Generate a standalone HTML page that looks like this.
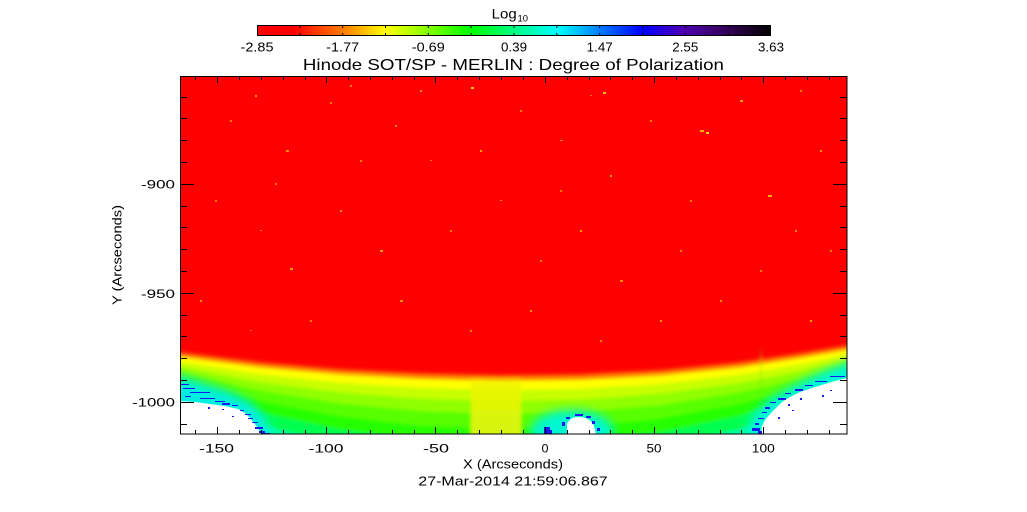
<!DOCTYPE html>
<html><head><meta charset="utf-8"><style>
html,body{margin:0;padding:0;background:#fff;}
svg{display:block;}
text{font-family:"Liberation Sans",sans-serif;fill:#000;}
</style></head><body>
<svg width="1027" height="512" viewBox="0 0 1027 512" xmlns="http://www.w3.org/2000/svg">
<defs>
<linearGradient id="cb" x1="0" x2="1" y1="0" y2="0">
<stop offset="0" stop-color="#ff0000"/>
<stop offset="0.07" stop-color="#ff0000"/>
<stop offset="0.17" stop-color="#ff8000"/>
<stop offset="0.25" stop-color="#ffff00"/>
<stop offset="0.335" stop-color="#80ff00"/>
<stop offset="0.415" stop-color="#00ff00"/>
<stop offset="0.5" stop-color="#00ff80"/>
<stop offset="0.585" stop-color="#00ffff"/>
<stop offset="0.665" stop-color="#0080ff"/>
<stop offset="0.75" stop-color="#0000ff"/>
<stop offset="0.83" stop-color="#5000b0"/>
<stop offset="0.92" stop-color="#300050"/>
<stop offset="1" stop-color="#000000"/>
</linearGradient>
<linearGradient id="strip" x1="0" x2="0" y1="0" y2="1">
<stop offset="0" stop-color="#f4f400" stop-opacity="0"/>
<stop offset="0.15" stop-color="#eef400" stop-opacity="0.9"/>
<stop offset="1" stop-color="#d4f410" stop-opacity="1"/>
</linearGradient>
<clipPath id="pc"><rect x="180" y="76" width="667" height="358"/></clipPath>
<filter id="bl" x="-5%" y="-5%" width="110%" height="110%"><feGaussianBlur stdDeviation="1.8"/></filter>
<filter id="bl2" x="-20%" y="-20%" width="140%" height="140%"><feGaussianBlur stdDeviation="5"/></filter>
</defs>
<rect width="1027" height="512" fill="#fff"/>

<rect x="257" y="25" width="514" height="11" fill="url(#cb)"/>
<rect x="257.5" y="25.5" width="513" height="10" fill="none" stroke="#000" stroke-width="1"/>
<path stroke="#000" stroke-width="1" d="M299.8,25V28M342.7,25V28M385.5,25V28M428.3,25V28M471.2,25V28M514,25V28M556.8,25V28M599.7,25V28M642.5,25V28M685.3,25V28M728.2,25V28M299.8,36V33M342.7,36V33M385.5,36V33M428.3,36V33M471.2,36V33M514,36V33M556.8,36V33M599.7,36V33M642.5,36V33M685.3,36V33M728.2,36V33"/>
<text x="491.7" y="18.5" font-size="14" textLength="25" lengthAdjust="spacingAndGlyphs">Log</text>
<text x="517.5" y="21.5" font-size="9" textLength="10.5" lengthAdjust="spacingAndGlyphs">10</text>
<g font-size="13" text-anchor="middle">
<text x="257" y="51.5" textLength="33" lengthAdjust="spacingAndGlyphs">-2.85</text>
<text x="342.7" y="51.5" textLength="33" lengthAdjust="spacingAndGlyphs">-1.77</text>
<text x="428.3" y="51.5" textLength="33" lengthAdjust="spacingAndGlyphs">-0.69</text>
<text x="514" y="51.5" textLength="26" lengthAdjust="spacingAndGlyphs">0.39</text>
<text x="599.7" y="51.5" textLength="26" lengthAdjust="spacingAndGlyphs">1.47</text>
<text x="685.3" y="51.5" textLength="26" lengthAdjust="spacingAndGlyphs">2.55</text>
<text x="771" y="51.5" textLength="26" lengthAdjust="spacingAndGlyphs">3.63</text>
</g>
<text x="513.4" y="70" font-size="16" text-anchor="middle" textLength="421" lengthAdjust="spacingAndGlyphs">Hinode SOT/SP - MERLIN : Degree of Polarization</text>

<g clip-path="url(#pc)">
<rect x="170" y="70" width="700" height="380" fill="#ff0000"/>
<g>
<rect x="471" y="87" width="3" height="2" fill="#ffd000"/>
<rect x="603" y="92" width="3" height="2" fill="#ffc000"/>
<rect x="700" y="130" width="4" height="2" fill="#ffb000"/>
<rect x="706" y="132" width="3" height="2" fill="#ffd000"/>
<rect x="768" y="195" width="4" height="2" fill="#ffb000"/>
<rect x="286" y="150" width="3" height="2" fill="#ff9000"/>
<rect x="290" y="268" width="3" height="2" fill="#ffa000"/>
<rect x="330" y="102" width="2" height="2" fill="#ff8000"/>
<rect x="395" y="125" width="2" height="2" fill="#ff9000"/>
<rect x="430" y="160" width="2" height="1" fill="#ff8000"/>
<rect x="520" y="110" width="2" height="2" fill="#ff8000"/>
<rect x="560" y="140" width="3" height="1" fill="#ff9000"/>
<rect x="610" y="175" width="2" height="2" fill="#ffa000"/>
<rect x="650" y="120" width="2" height="2" fill="#ff8000"/>
<rect x="740" y="100" width="3" height="2" fill="#ffa000"/>
<rect x="800" y="90" width="2" height="2" fill="#ff8000"/>
<rect x="820" y="150" width="2" height="2" fill="#ff9000"/>
<rect x="230" y="120" width="2" height="2" fill="#ff8000"/>
<rect x="255" y="95" width="2" height="2" fill="#ff9000"/>
<rect x="215" y="200" width="2" height="2" fill="#ff8000"/>
<rect x="260" y="230" width="2" height="1" fill="#ff8000"/>
<rect x="340" y="210" width="2" height="2" fill="#ff9000"/>
<rect x="380" y="250" width="3" height="2" fill="#ffa000"/>
<rect x="450" y="230" width="2" height="2" fill="#ff8000"/>
<rect x="500" y="200" width="2" height="1" fill="#ff9000"/>
<rect x="540" y="260" width="2" height="2" fill="#ff8000"/>
<rect x="580" y="230" width="2" height="2" fill="#ffa000"/>
<rect x="620" y="280" width="3" height="2" fill="#ff9000"/>
<rect x="680" y="250" width="2" height="2" fill="#ff8000"/>
<rect x="720" y="300" width="2" height="2" fill="#ff9000"/>
<rect x="760" y="270" width="2" height="2" fill="#ff8000"/>
<rect x="810" y="320" width="2" height="2" fill="#ffa000"/>
<rect x="830" y="250" width="2" height="2" fill="#ff8000"/>
<rect x="200" y="300" width="2" height="2" fill="#ff9000"/>
<rect x="250" y="330" width="2" height="1" fill="#ff8000"/>
<rect x="310" y="320" width="2" height="2" fill="#ff8000"/>
<rect x="400" y="300" width="3" height="2" fill="#ff9000"/>
<rect x="470" y="330" width="2" height="2" fill="#ff8000"/>
<rect x="530" y="310" width="2" height="2" fill="#ff9000"/>
<rect x="600" y="340" width="2" height="2" fill="#ff8000"/>
<rect x="660" y="320" width="2" height="2" fill="#ff9000"/>
<rect x="690" y="200" width="2" height="2" fill="#ff8000"/>
<rect x="360" y="160" width="2" height="2" fill="#ff8000"/>
<rect x="480" y="150" width="2" height="2" fill="#ffa000"/>
<rect x="590" y="95" width="2" height="1" fill="#ff8000"/>
<rect x="420" y="90" width="2" height="2" fill="#ff9000"/>
<rect x="350" y="85" width="2" height="2" fill="#ff8000"/>
<rect x="795" y="230" width="2" height="2" fill="#ff9000"/>
<rect x="275" y="183" width="2" height="2" fill="#ff8000"/>
<rect x="560" y="190" width="2" height="2" fill="#ff8000"/>
</g>
<g filter="url(#bl)">
<path fill="#ff3000" d="M170,349.5L180,351L260,361L340,368L420,372L500,374L580,373L660,369L740,361L800,352L847,344L860,341.5L860,450L170,450Z"/>
<path fill="#ff8c00" d="M170,352.5L180,354L260,364L340,371L420,375L500,377L580,376L660,372L740,364L800,355L847,347L860,344.5L860,450L170,450Z"/>
<path fill="#ffff00" d="M170,355.5L180,357L260,367.5L340,374.8L420,379L500,381L580,380L660,375.8L740,367.6L800,358.3L847,350L860,347.5L860,450L170,450Z"/>
<path fill="#c8ff00" d="M170,360.5L180,362L260,374.3L340,382.8L420,387.8L500,390L580,388.8L660,384L740,374.8L800,364.5L847,355L860,352.5L860,450L170,450Z"/>
<path fill="#90ff00" d="M170,365.5L180,367L260,382L340,392.3L420,398.5L500,401L580,399.5L660,393.8L740,383L800,371.3L847,360L860,357.5L860,450L170,450Z"/>
<path fill="#58ff00" d="M170,370.5L180,372L260,390.6L340,403.3L420,411L500,414L580,412L660,405.2L740,392.5L800,378.7L847,365L860,362.5L860,450L170,450Z"/>
<path fill="#28ff00" d="M170,377.5L180,379L260,401.2L340,416.3L420,425.7L500,429L580,426.7L660,418.6L740,403.9L800,388.1L847,372L860,369.5L860,450L170,450Z"/>
<path fill="#00ff50" d="M170,385.5L180,387L260,412.3L340,429.5L420,440.3L500,444L580,441.3L660,432.2L740,415.7L800,398.2L847,380L860,377.5L860,450L170,450Z"/>
<path fill="#00ffa0" d="M170,395.5L180,397L260,425L340,444L420,456L500,460L580,457L660,447L740,429L800,410L847,390L860,387.5L860,450L170,450Z"/>
<rect x="471" y="376" width="50" height="66" fill="url(#strip)"/>
<line x1="761" y1="350" x2="761" y2="400" stroke="#60e000" stroke-width="1" opacity="0.6"/>
</g>
<g filter="url(#bl2)">
<path fill="#00f0e0" d="M172,374L200,382L230,392L250,402L264,416L274,440L172,440Z"/>
<path fill="#00f8d8" d="M855,360L822,372L792,386L768,400L752,416L746,440L855,440Z"/>
<ellipse cx="572" cy="432" rx="42" ry="22" fill="#00f8d0"/>
</g>
<path fill="#fff" d="M180,401L195,402L210,404L225,406L238,409L245,413L250,418L254,423L258,428L261,434L180,434Z"/>
<path fill="#fff" d="M847,378L835,381L825,384L812,388L800,392L790,397L782,402L776,408L770,414L765,420L762,426L761,434L847,434Z"/>
<path fill="#fff" d="M567,434L567,424Q570,417 578,417Q590,417 594,426L596,434Z"/>
<g fill="#1818f0">
<rect x="181" y="384" width="8" height="1"/>
<rect x="183" y="388" width="12" height="1"/>
<rect x="190" y="392" width="20" height="1"/>
<rect x="185" y="396" width="6" height="1"/>
<rect x="200" y="398" width="15" height="1"/>
<rect x="215" y="401" width="10" height="1"/>
<rect x="222" y="403" width="8" height="2"/>
<rect x="232" y="405" width="6" height="1"/>
<rect x="240" y="410" width="4" height="1"/>
<rect x="245" y="414" width="6" height="1"/>
<rect x="248" y="418" width="5" height="1"/>
<rect x="252" y="422" width="6" height="1"/>
<rect x="255" y="427" width="8" height="2"/>
<rect x="259" y="431" width="6" height="2"/>
<rect x="262" y="433" width="8" height="2"/>
<rect x="208" y="407" width="2" height="2"/>
<rect x="222" y="409" width="2" height="1"/>
<rect x="232" y="416" width="2" height="1"/>
<rect x="830" y="376" width="15" height="1"/>
<rect x="815" y="381" width="12" height="1"/>
<rect x="805" y="385" width="8" height="1"/>
<rect x="795" y="389" width="8" height="2"/>
<rect x="785" y="393" width="6" height="1"/>
<rect x="778" y="398" width="8" height="2"/>
<rect x="770" y="402" width="6" height="1"/>
<rect x="765" y="407" width="5" height="2"/>
<rect x="762" y="412" width="5" height="1"/>
<rect x="758" y="418" width="6" height="1"/>
<rect x="755" y="423" width="4" height="2"/>
<rect x="752" y="428" width="8" height="3"/>
<rect x="758" y="431" width="4" height="3"/>
<rect x="800" y="398" width="2" height="2"/>
<rect x="788" y="404" width="2" height="2"/>
<rect x="792" y="410" width="2" height="1"/>
<rect x="778" y="417" width="2" height="2"/>
<rect x="830" y="390" width="2" height="1"/>
<rect x="822" y="395" width="2" height="2"/>
<rect x="566" y="417" width="4" height="2"/>
<rect x="575" y="414" width="8" height="2"/>
<rect x="586" y="416" width="5" height="2"/>
<rect x="592" y="421" width="3" height="3"/>
<rect x="597" y="428" width="3" height="3"/>
<rect x="562" y="422" width="3" height="4"/>
<rect x="544" y="427" width="6" height="7"/>
<rect x="549" y="430" width="3" height="4"/>
</g>
</g>

<rect x="180.5" y="76.5" width="666.5" height="357.5" fill="none" stroke="#000" stroke-width="1"/>
<path stroke="#000" stroke-width="1" fill="none" d="M180,97.5H187M180,118.5H187M180,140.5H187M180,162.5H187M180,184.5H194M180,206.5H187M180,227.5H187M180,249.5H187M180,271.5H187M180,293.5H194M180,315.5H187M180,336.5H187M180,358.5H187M180,380.5H187M180,402.5H194M180,424.5H187M847,97.5H840M847,118.5H840M847,140.5H840M847,162.5H840M847,184.5H833M847,206.5H840M847,227.5H840M847,249.5H840M847,271.5H840M847,293.5H833M847,315.5H840M847,336.5H840M847,358.5H840M847,380.5H840M847,402.5H833M847,424.5H840"/>
<path stroke="#000" stroke-width="1" fill="none" d="M195.5,434V430M217.5,434V427M239.5,434V430M261.5,434V430M283.5,434V430M305.5,434V430M326.5,434V427M348.5,434V430M370.5,434V430M392.5,434V430M414.5,434V430M435.5,434V427M457.5,434V430M479.5,434V430M501.5,434V430M523.5,434V430M545.5,434V427M567.5,434V430M589.5,434V430M610.5,434V430M632.5,434V430M654.5,434V427M676.5,434V430M698.5,434V430M720.5,434V430M741.5,434V430M763.5,434V427M785.5,434V430M807.5,434V430M829.5,434V430M195.5,76V80M217.5,76V83M239.5,76V80M261.5,76V80M283.5,76V80M305.5,76V80M326.5,76V83M348.5,76V80M370.5,76V80M392.5,76V80M414.5,76V80M435.5,76V83M457.5,76V80M479.5,76V80M501.5,76V80M523.5,76V80M545.5,76V83M567.5,76V80M589.5,76V80M610.5,76V80M632.5,76V80M654.5,76V83M676.5,76V80M698.5,76V80M720.5,76V80M741.5,76V80M763.5,76V83M785.5,76V80M807.5,76V80M829.5,76V80"/>

<g font-size="12" text-anchor="middle">
<text x="216.5" y="452.3" textLength="35" lengthAdjust="spacingAndGlyphs">-150</text>
<text x="326" y="452.3" textLength="35" lengthAdjust="spacingAndGlyphs">-100</text>
<text x="436" y="452.3" textLength="26" lengthAdjust="spacingAndGlyphs">-50</text>
<text x="545" y="452.3" textLength="7" lengthAdjust="spacingAndGlyphs">0</text>
<text x="654" y="452.3" textLength="15" lengthAdjust="spacingAndGlyphs">50</text>
<text x="763.3" y="452.3" textLength="23" lengthAdjust="spacingAndGlyphs">100</text>
</g>
<g font-size="12" text-anchor="end">
<text x="175" y="188.3" textLength="34" lengthAdjust="spacingAndGlyphs">-900</text>
<text x="175" y="298" textLength="34" lengthAdjust="spacingAndGlyphs">-950</text>
<text x="175" y="406.7" textLength="43" lengthAdjust="spacingAndGlyphs">-1000</text>
</g>
<text x="513" y="468.3" font-size="13" text-anchor="middle" textLength="100" lengthAdjust="spacingAndGlyphs">X (Arcseconds)</text>
<text x="513" y="485.7" font-size="13" text-anchor="middle" textLength="189.4" lengthAdjust="spacingAndGlyphs">27-Mar-2014 21:59:06.867</text>
<text transform="translate(121.5,255) rotate(-90)" font-size="13" text-anchor="middle" textLength="100" lengthAdjust="spacingAndGlyphs">Y (Arcseconds)</text>
</svg>
</body></html>
